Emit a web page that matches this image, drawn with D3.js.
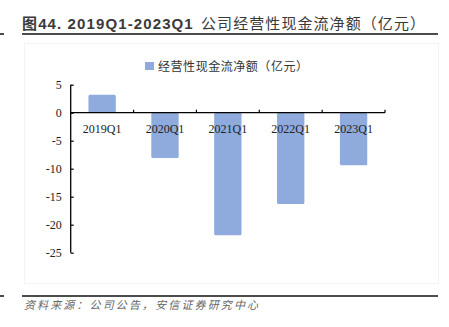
<!DOCTYPE html>
<html>
<head>
<meta charset="utf-8">
<script src="https://cdn.jsdelivr.net/npm/d3@7/dist/d3.min.js"></script>
<style>
  html, body { margin: 0; padding: 0; background: #fff; }
  svg { display: block; }
</style>
</head>
<body>
<svg id="chart" width="449" height="327"></svg>
<script>
// Quarterly operating cash flow, net (100 million yuan)
const categories = ["2019Q1", "2020Q1", "2021Q1", "2022Q1", "2023Q1"];
const values = [3.2, -8.1, -21.9, -16.3, -9.4];
const yTicks = [5, 0, -5, -10, -15, -20, -25];
const seriesName = "经营性现金流净额（亿元）";
const titleLead = "图44. 2019Q1-2023Q1 ";
const titleTail = "公司经营性现金流净额（亿元）";
const sourceNote = "资料来源：公司公告，安信证券研究中心";

const svg = d3.select("#chart");
const barColor = "#8faadc";
const serif = "'Liberation Serif', 'Times New Roman', serif";
const cjk = "'Noto Sans CJK SC', 'Noto Sans', sans-serif";

// Title with rule lines
svg.append("text")
  .attr("x", 22).attr("y", 29)
  .attr("font-family", "'Liberation Sans', Arial, " + cjk)
  .attr("font-weight", "bold").attr("font-size", 15).attr("fill", "#3a3a3a")
  .call(t => {
    t.append("tspan").text(titleLead).attr("textLength", 176).attr("lengthAdjust", "spacing");
    t.append("tspan").attr("x", 201).text(titleTail)
      .attr("font-family", cjk).attr("font-weight", "normal")
      .attr("textLength", 224).attr("lengthAdjust", "spacing");
  });
svg.append("line").attr("x1", 22).attr("x2", 438).attr("y1", 34).attr("y2", 34)
  .attr("stroke", "#111").attr("stroke-width", 1.5);
svg.append("line").attr("x1", 0).attr("x2", 4).attr("y1", 34).attr("y2", 34)
  .attr("stroke", "#111").attr("stroke-width", 1.5);

// Faint chart frame
svg.append("rect").attr("x", 24.5).attr("y", 43.5).attr("width", 414).attr("height", 240)
  .attr("fill", "none").attr("stroke", "#f3f3f3");

// Scales
const x = d3.scaleBand().domain(categories).range([70.7, 385]).paddingInner(0.565).paddingOuter(0.2825);
const y = d3.scaleLinear().domain([-25, 5]).range([252.7, 84.7]);

// Bars
svg.append("g").selectAll("rect").data(values).join("rect")
  .attr("x", (d, i) => x(categories[i]))
  .attr("width", x.bandwidth())
  .attr("y", d => y(Math.max(0, d)))
  .attr("height", d => Math.abs(y(d) - y(0)))
  .attr("rx", 1.5)
  .attr("fill", barColor);

// Y axis (ticks inside), plain hyphen for negatives
const yAxis = d3.axisLeft(y).tickValues(yTicks).tickSize(-3).tickPadding(9).tickFormat(d => String(d));
const gy = svg.append("g").attr("transform", "translate(70.7,0)").call(yAxis);
gy.select(".domain").attr("stroke", "#000").attr("stroke-width", 1.3).attr("d", `M-0,${y(5)}V${y(-25)}`);
gy.selectAll(".tick line").attr("stroke", "#000").attr("stroke-width", 1.2);
gy.selectAll(".tick text").attr("font-family", serif).attr("font-size", 12).attr("fill", "#222");

// X axis at zero: boundary ticks pointing up, labels below
const bandEdges = categories.map(c => x(c) - x.step() * x.paddingInner() / 2).concat([385]).slice(1);
const gx = svg.append("g");
gx.append("line").attr("x1", 70.7).attr("x2", 385).attr("y1", y(0)).attr("y2", y(0))
  .attr("stroke", "#000").attr("stroke-width", 1.3);
gx.selectAll("line.tk").data(bandEdges).join("line").attr("class", "tk")
  .attr("x1", d => d).attr("x2", d => d).attr("y1", y(0)).attr("y2", y(0) - 3)
  .attr("stroke", "#000").attr("stroke-width", 1.2);
gx.selectAll("text").data(categories).join("text")
  .attr("x", d => x(d) + x.bandwidth() / 2).attr("y", y(0) + 20)
  .attr("text-anchor", "middle").attr("font-family", serif).attr("font-size", 12).attr("fill", "#222")
  .text(d => d);

// Legend
svg.append("rect").attr("x", 145).attr("y", 62).attr("width", 9).attr("height", 8).attr("fill", barColor);
svg.append("text").attr("x", 158).attr("y", 70.5)
  .attr("font-family", cjk).attr("font-size", 12).attr("fill", "#333")
  .attr("textLength", 150).attr("lengthAdjust", "spacing")
  .text(seriesName);

// Source note with rule lines
svg.append("line").attr("x1", 22).attr("x2", 438).attr("y1", 296).attr("y2", 296)
  .attr("stroke", "#111").attr("stroke-width", 1.5);
svg.append("line").attr("x1", 0).attr("x2", 4).attr("y1", 296).attr("y2", 296)
  .attr("stroke", "#111").attr("stroke-width", 1.5);
svg.append("text").attr("x", 24).attr("y", 309)
  .attr("font-family", cjk).attr("font-size", 11).attr("font-style", "italic").attr("fill", "#666")
  .attr("textLength", 234).attr("lengthAdjust", "spacing")
  .text(sourceNote);
</script>
</body>
</html>
